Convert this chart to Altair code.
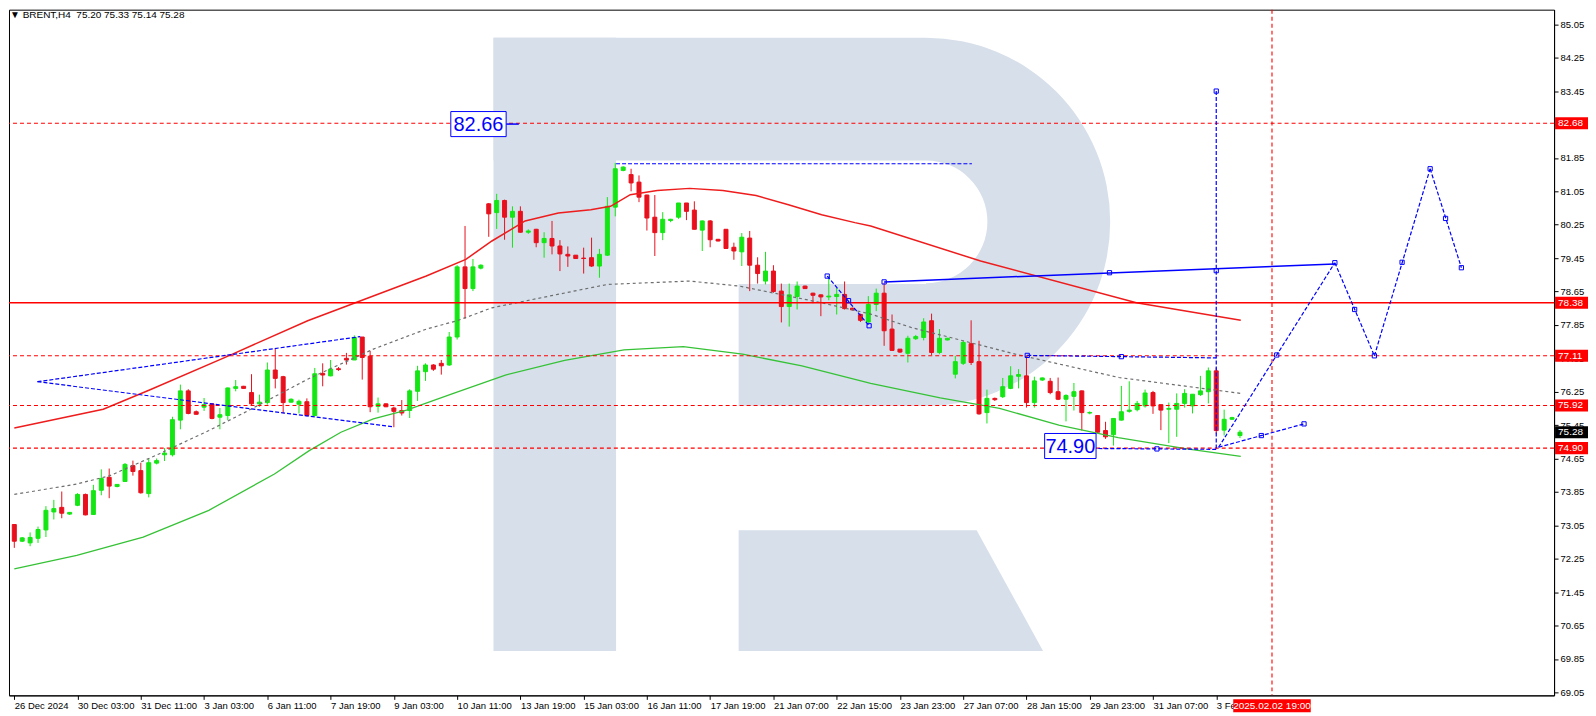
import json
import altair as alt
import pandas as pd

# ---------------- candle data (BRENT H4) ----------------
opens = [73.07, 72.67, 72.63, 72.74, 72.94, 73.37, 73.48, 73.32, 73.53, 73.79,
         73.31, 73.89, 74.20, 73.98, 74.10, 74.48, 74.36, 73.81, 74.54, 74.74,
         74.74, 75.57, 76.27, 75.77, 75.88, 75.96, 75.64, 75.68, 76.33, 76.38,
         76.23, 75.96, 75.99, 76.77, 76.61, 76.00, 75.95, 76.01, 75.68, 76.69,
         76.63, 76.80, 77.05, 77.01, 77.56, 77.10, 75.90, 75.96, 75.86, 75.80,
         75.80, 76.26, 76.73, 76.89, 76.93, 76.89, 77.56, 79.24, 78.72, 79.21,
         80.75, 80.54, 80.83, 80.43, 80.57, 80.07, 80.14, 79.82, 79.92, 79.74,
         79.54, 79.52, 79.45, 79.46, 79.26, 79.52, 80.67, 81.55, 81.45, 81.27,
         80.96, 80.43, 80.06, 80.35, 80.43, 80.77, 80.60, 80.12, 80.34, 79.90,
         80.14, 79.71, 79.60, 79.93, 79.28, 78.90, 79.14, 78.66, 78.29, 78.53,
         78.78, 78.61, 78.57, 78.52, 78.53, 78.58, 78.25, 78.10, 77.92, 78.34,
         78.61, 77.75, 77.27, 77.17, 77.52, 77.55, 77.95, 77.19, 77.49, 76.67,
         76.93, 77.40, 76.97, 75.75, 76.09, 76.13, 76.33, 76.62, 76.63, 75.99,
         76.53, 76.50, 76.25, 76.07, 76.14, 76.27, 75.74, 75.68, 75.32, 75.22,
         75.57, 75.78, 75.82, 75.91, 76.23, 75.94, 75.83, 75.83, 75.97, 75.91,
         76.18, 76.25, 76.75, 75.33, 75.59, 75.20]
highs = [73.07, 72.77, 72.88, 73.02, 73.51, 73.66, 73.86, 73.37, 73.82, 73.81,
         74.02, 74.39, 74.41, 74.04, 74.54, 74.60, 74.55, 74.65, 74.65, 74.90,
         75.65, 76.42, 76.31, 75.80, 76.10, 75.97, 75.86, 76.35, 76.53, 76.39,
         76.67, 76.18, 76.95, 77.27, 76.63, 76.09, 76.06, 76.09, 76.82, 76.93,
         77.01, 76.84, 77.18, 77.60, 77.56, 77.23, 76.11, 75.97, 75.89, 76.05,
         76.31, 76.87, 76.93, 76.91, 77.01, 77.68, 79.28, 80.22, 79.43, 79.30,
         80.77, 80.99, 80.85, 80.69, 80.69, 80.14, 80.15, 80.07, 80.34, 79.88,
         79.73, 79.52, 79.70, 79.94, 79.67, 80.91, 81.73, 81.65, 81.59, 81.43,
         80.97, 80.96, 80.55, 80.39, 80.77, 80.77, 80.81, 80.35, 80.36, 79.91,
         80.14, 79.82, 80.05, 80.10, 79.47, 79.60, 79.28, 78.84, 78.84, 78.89,
         78.79, 78.62, 78.58, 79.02, 78.74, 78.89, 78.26, 78.12, 78.54, 78.72,
         78.86, 78.10, 77.27, 77.59, 77.61, 78.01, 78.12, 77.75, 77.54, 77.11,
         77.47, 77.96, 77.47, 76.30, 76.11, 76.58, 76.86, 76.79, 77.11, 76.61,
         76.59, 76.58, 76.59, 76.19, 76.46, 76.28, 75.78, 75.69, 75.53, 75.62,
         76.39, 76.50, 76.03, 76.30, 76.27, 75.94, 75.99, 76.21, 76.31, 76.19,
         76.63, 76.83, 76.83, 75.82, 75.65, 75.33]
lows = [72.51, 72.65, 72.55, 72.63, 72.77, 73.19, 73.22, 73.30, 73.51, 73.29,
        73.30, 73.77, 73.70, 73.96, 74.09, 74.24, 73.81, 73.72, 74.51, 74.59,
        74.70, 75.35, 75.71, 75.70, 75.79, 75.59, 75.35, 75.57, 76.26, 76.32,
        75.92, 75.89, 75.94, 76.33, 75.73, 75.99, 75.73, 75.66, 75.66, 76.38,
        76.62, 76.75, 76.90, 77.01, 76.54, 75.76, 75.75, 75.88, 75.40, 75.68,
        75.62, 76.03, 76.51, 76.75, 76.66, 76.87, 77.50, 78.00, 78.66, 79.18,
        79.96, 80.15, 79.89, 79.70, 80.06, 80.03, 79.71, 79.46, 79.54, 79.14,
        79.24, 79.44, 79.08, 79.24, 78.98, 79.50, 80.45, 81.53, 81.05, 80.79,
        80.11, 79.50, 79.88, 80.31, 80.39, 80.36, 80.14, 79.62, 79.71, 79.85,
        79.67, 79.41, 79.26, 78.66, 78.84, 78.82, 78.62, 77.91, 77.81, 78.22,
        78.71, 78.37, 78.06, 78.44, 78.10, 78.22, 78.20, 77.92, 77.90, 78.18,
        77.35, 77.23, 77.18, 76.95, 77.49, 77.48, 77.13, 77.15, 77.48, 76.57,
        76.89, 76.89, 75.70, 75.49, 76.03, 76.10, 76.31, 76.33, 75.87, 75.87,
        76.51, 76.19, 76.05, 75.54, 75.80, 75.32, 75.71, 75.26, 75.12, 74.96,
        75.56, 75.75, 75.78, 75.87, 75.72, 75.33, 75.02, 75.17, 75.87, 75.73,
        76.15, 75.97, 75.25, 75.20, 75.58, 75.14]
closes = [72.67, 72.75, 72.76, 72.95, 73.41, 73.45, 73.34, 73.36, 73.79, 73.30,
          73.88, 74.17, 73.99, 74.03, 74.51, 74.34, 73.83, 74.55, 74.60, 74.78,
          75.58, 76.27, 75.73, 75.71, 75.94, 75.61, 75.70, 76.34, 76.37, 76.33,
          75.96, 76.00, 76.77, 76.57, 75.99, 76.07, 76.02, 75.68, 76.68, 76.65,
          76.79, 76.78, 77.01, 77.55, 77.07, 75.89, 75.96, 75.89, 75.78, 75.74,
          76.27, 76.75, 76.89, 76.79, 76.87, 77.56, 79.24, 78.72, 79.24, 79.28,
          80.51, 80.83, 80.43, 80.57, 80.07, 80.10, 79.82, 79.92, 79.74, 79.55,
          79.50, 79.44, 79.44, 79.26, 79.54, 80.69, 81.59, 81.63, 81.25, 80.91,
          80.41, 80.06, 80.38, 80.38, 80.77, 80.57, 80.14, 80.34, 79.89, 79.86,
          79.68, 79.62, 79.95, 79.28, 79.08, 79.14, 78.65, 78.29, 78.57, 78.78,
          78.72, 78.56, 78.52, 78.54, 78.58, 78.24, 78.21, 77.96, 78.34, 78.61,
          77.71, 77.24, 77.20, 77.53, 77.57, 77.92, 77.19, 77.53, 77.53, 76.97,
          77.43, 76.95, 75.72, 76.09, 76.06, 76.37, 76.63, 76.66, 75.99, 76.51,
          76.58, 76.23, 76.07, 76.16, 76.25, 75.75, 75.75, 75.28, 75.17, 75.61,
          75.77, 75.81, 75.97, 76.22, 75.91, 75.81, 75.85, 75.97, 76.21, 76.19,
          76.27, 76.75, 75.32, 75.59, 75.63, 75.28]

# ---------------- axes text ----------------
tick_bars = [0, 8, 16, 24, 32, 40, 48, 56, 64, 72, 80, 88, 96, 104, 112, 120, 128, 136, 144, 152]
tick_labels = ["26 Dec 2024", "30 Dec 03:00", "31 Dec 11:00", "3 Jan 03:00", "6 Jan 11:00",
               "7 Jan 19:00", "9 Jan 03:00", "10 Jan 11:00", "13 Jan 19:00", "15 Jan 03:00",
               "16 Jan 11:00", "17 Jan 19:00", "21 Jan 07:00", "22 Jan 15:00", "23 Jan 23:00",
               "27 Jan 07:00", "28 Jan 15:00", "29 Jan 23:00", "31 Jan 07:00", "3 Feb 07:00"]
price_ticks = [69.05, 69.85, 70.65, 71.45, 72.25, 73.05, 73.85, 74.65, 75.45, 76.25, 77.05,
               77.85, 78.65, 79.45, 80.25, 81.05, 81.85, 82.65, 83.45, 84.25, 85.05]

# ---------------- indicator lines ----------------
red_ma_x = [0, 11.25, 17.1, 27.1, 37.1, 52.1, 57.1, 60.4, 64.6, 68.8, 72.9, 75.4, 77.9, 81.3,
            85.4, 89.6, 93.8, 97.9, 102.1, 106.3, 108.3, 122.2, 141.9, 155.1]
red_ma_y = [75.38, 75.83, 76.29, 77.11, 77.95, 79.02, 79.42, 79.86, 80.34, 80.53, 80.61, 80.69,
            80.97, 81.07, 81.12, 81.07, 80.95, 80.73, 80.49, 80.30, 80.22, 79.38, 78.38, 77.96]
green_ma_x = [0, 7.9, 16.3, 24.6, 32.9, 37.3, 41.3, 45.4, 49.6, 55.8, 62.1, 69.6, 77.1, 84.6,
              92.1, 99.6, 108.3, 117.1, 124.6, 132.1, 139.6, 148.3, 155.1]
green_ma_y = [72.01, 72.33, 72.77, 73.41, 74.28, 74.84, 75.28, 75.60, 75.81, 76.23, 76.65, 77.00,
              77.25, 77.33, 77.15, 76.87, 76.45, 76.10, 75.85, 75.45, 75.15, 74.88, 74.70]
gray_ma_x = [0, 7.9, 12.1, 18.3, 24.6, 28.8, 37.1, 45.4, 52.1, 56.0, 60.4, 68.7, 75.0, 85.4,
             91.7, 102.1, 108.3, 113.4, 126.6, 139.7, 155.1]
gray_ma_y = [73.79, 74.04, 74.24, 74.76, 75.32, 75.72, 76.55, 77.27, 77.75, 77.95, 78.26, 78.58,
             78.82, 78.90, 78.78, 78.38, 78.11, 77.79, 77.15, 76.59, 76.21]

# ---------------- levels and drawn objects ----------------
dashed_levels = [82.68, 77.11, 75.92, 74.90]
solid_levels = [78.38]
future_marker_bar = 159.05

blue_dash_x0 = [2.93, 2.93, 76.1, 102.8, 152.0, 128.1, 137.1, 152.3, 167.0, 172.0, 179.05, 152.3]
blue_dash_y0 = [76.49, 76.49, 81.71, 79.02, 83.45, 77.12, 74.89, 74.92, 79.34, 77.11, 81.59, 74.92]
blue_dash_x1 = [43.75, 47.93, 121.1, 108.1, 152.0, 152.0, 152.0, 167.0, 172.0, 179.05, 183.0, 163.1]
blue_dash_y1 = [77.57, 75.41, 81.71, 77.83, 74.85, 77.06, 74.87, 79.34, 77.11, 81.59, 79.22, 75.48]
blue_solid_x0 = [110.0, 62.2]
blue_solid_y0 = [78.88, 82.66]
blue_solid_x1 = [167.0, 63.8]
blue_solid_y1 = [79.31, 82.66]
marker_x = [110.0, 138.5, 167.0, 159.65, 169.5, 172.0, 175.5, 179.05, 181.0, 183.0, 157.7,
            163.1, 152.0, 152.0, 128.1, 140.0, 144.5, 102.8, 105.5, 108.1]
marker_y = [78.88, 79.10, 79.34, 77.13, 78.22, 77.11, 79.35, 81.59, 80.40, 79.22, 75.20,
            75.48, 83.45, 79.15, 77.12, 77.09, 74.88, 79.02, 78.43, 77.83]

box_labels = ["82.66", "74.90"]
box_x0 = [55.2, 130.3]
box_x1 = [62.2, 136.8]
box_y0 = [82.36, 74.65]
box_y1 = [82.96, 75.25]

axis_tags = ["82.68", "78.38", "77.11", "75.92", "74.90", "75.28"]
axis_tag_price = [82.68, 78.38, 77.11, 75.92, 74.90, 75.28]
axis_tag_color = ["#ff0000", "#ff0000", "#ff0000", "#ff0000", "#ff0000", "#000000"]

header = "\u25bc BRENT,H4\u00a0 75.20 75.33 75.14 75.28"
time_tag = "2025.02.02 19:00"

# watermark logo pieces (in bar / price units)
logo_rect_x0 = [60.6, 60.6, 91.6]
logo_rect_x1 = [76.1, 115.3, 115.3]
logo_rect_y0 = [70.04, 81.79, 75.91]
logo_rect_y1 = [84.73, 84.73, 78.83]
logo_leg_x = [91.6, 121.7, 130.1]
logo_leg_top = [72.93, 72.93, 70.04]
logo_leg_bot = [70.04, 70.04, 70.04]
logo_bowl_center = (115.3, 80.32)

# ---------------- styling ----------------
W, H = 1548, 687
X_DOM = [-0.04, 194.09]
Y_DOM = [68.978, 85.40]
GREEN = "#14e614"
RED = "#e8101c"
BLUE = "#0000ff"
LOGO = "#d6dfea"
FONT = "Liberation Sans"

xs = alt.Scale(domain=X_DOM, nice=False, zero=False)
ys = alt.Scale(domain=Y_DOM, nice=False, zero=False)
label_expr = json.dumps(tick_labels) + "[round(datum.value / 8)]"
X_AX = alt.Axis(values=tick_bars, labelExpr=label_expr, orient="bottom", tickSize=4,
                tickColor="black", domainColor="black", labelColor="black", labelFont=FONT,
                labelFontSize=9.5, labelAlign="left", labelPadding=1, labelOverlap=False,
                labelFlush=False, grid=False, title=None)
Y_AX = alt.Axis(values=price_ticks, format=".2f", orient="right", tickSize=4, tickColor="black",
                domainColor="black", labelColor="black", labelFont=FONT, labelFontSize=9.5,
                labelPadding=2, labelOverlap=False, labelFlush=False, grid=False, title=None)


def X(field):
    return alt.X(field, type="quantitative", scale=xs, axis=X_AX)


def Y(field):
    return alt.Y(field, type="quantitative", scale=ys, axis=Y_AX)


# ---------------- tables ----------------
candles = pd.DataFrame({"i": list(range(len(opens))), "o": opens, "h": highs, "l": lows, "c": closes})
candles["dir"] = ["up" if c >= o else "down" for o, c in zip(opens, closes)]
dir_color = alt.Color("dir:N", scale=alt.Scale(domain=["up", "down"], range=[GREEN, RED]), legend=None)

logo_rects = pd.DataFrame({"x0": logo_rect_x0, "x1": logo_rect_x1, "y0": logo_rect_y0, "y1": logo_rect_y1})
logo_leg = pd.DataFrame({"x": logo_leg_x, "t": logo_leg_top, "b": logo_leg_bot})
logo_bowl = pd.DataFrame({"x": [logo_bowl_center[0]], "y": [logo_bowl_center[1]]})

# ---------------- layers ----------------
logo_r = alt.Chart(logo_rects).mark_rect(color=LOGO).encode(x=X("x0"), x2="x1", y=Y("y0"), y2="y1")
logo_a = alt.Chart(logo_bowl).mark_arc(color=LOGO, innerRadius=61.5, outerRadius=184.5, theta=0,
                                       theta2=3.14159265).encode(x=X("x"), y=Y("y"))
logo_l = alt.Chart(logo_leg).mark_area(color=LOGO).encode(x=X("x"), y=Y("t"), y2="b")

wicks = alt.Chart(candles).mark_rule(strokeWidth=1).encode(x=X("i"), y=Y("l"), y2="h", color=dir_color)
bodies = alt.Chart(candles).mark_bar(size=4, strokeWidth=1).encode(
    x=X("i"), y=Y("o"), y2="c", color=dir_color, stroke=dir_color)


def ma_line(xv, yv, color, dash=None, width=1.3):
    df = pd.DataFrame({"x": xv, "y": yv})
    kw = dict(color=color, strokeWidth=width)
    if dash:
        kw["strokeDash"] = dash
    return alt.Chart(df).mark_line(**kw).encode(x=X("x"), y=Y("y"))


red_ma = ma_line(red_ma_x, red_ma_y, "#ee1c1c", width=1.5)
green_ma = ma_line(green_ma_x, green_ma_y, "#36c236", width=1.3)
gray_ma = ma_line(gray_ma_x, gray_ma_y, "#6e6e6e", dash=[3, 3], width=1.2)

lev_d = alt.Chart(pd.DataFrame({"p": dashed_levels})).mark_rule(
    color="#ff0000", strokeWidth=1.1, strokeDash=[4, 3]).encode(y=Y("p"))
lev_s = alt.Chart(pd.DataFrame({"p": solid_levels})).mark_rule(
    color="#ff0000", strokeWidth=1.4).encode(y=Y("p"))
vline = alt.Chart(pd.DataFrame({"b": [future_marker_bar]})).mark_rule(
    color="#ff0000", strokeWidth=1.1, strokeDash=[4, 3]).encode(x=X("b"))

bd = pd.DataFrame({"x0": blue_dash_x0, "y0": blue_dash_y0, "x1": blue_dash_x1, "y1": blue_dash_y1})
blue_d = alt.Chart(bd).mark_rule(color=BLUE, strokeWidth=1.2, strokeDash=[4, 2]).encode(
    x=X("x0"), y=Y("y0"), x2="x1", y2="y1")
bs = pd.DataFrame({"x0": blue_solid_x0, "y0": blue_solid_y0, "x1": blue_solid_x1, "y1": blue_solid_y1})
blue_s = alt.Chart(bs).mark_rule(color=BLUE, strokeWidth=1.5).encode(
    x=X("x0"), y=Y("y0"), x2="x1", y2="y1")
marks = alt.Chart(pd.DataFrame({"x": marker_x, "y": marker_y})).mark_point(
    shape="square", filled=False, size=18, color=BLUE, strokeWidth=1, opacity=1).encode(x=X("x"), y=Y("y"))

boxes_df = pd.DataFrame({"t": box_labels, "x0": box_x0, "x1": box_x1, "y0": box_y0, "y1": box_y1})
boxes_df["xc"] = [(a + b) / 2 for a, b in zip(box_x0, box_x1)]
boxes_df["yc"] = [(a + b) / 2 for a, b in zip(box_y0, box_y1)]
box_r = alt.Chart(boxes_df).mark_rect(fill="white", stroke=BLUE, strokeWidth=1).encode(
    x=X("x0"), x2="x1", y=Y("y0"), y2="y1")
box_t = alt.Chart(boxes_df).mark_text(color=BLUE, font=FONT, fontSize=20, baseline="middle",
                                      align="center", dy=1).encode(x=X("xc"), y=Y("yc"), text="t:N")

tags = pd.DataFrame({"t": axis_tags, "p": axis_tag_price, "col": axis_tag_color})
tags["top"] = [p + 0.145 for p in axis_tag_price]
tags["bot"] = [p - 0.145 for p in axis_tag_price]
tag_r = alt.Chart(tags).mark_rect().encode(
    x=alt.value(W + 1), x2=alt.value(W + 34), y=Y("top"), y2="bot",
    color=alt.Color("col:N", scale=None))
tag_t = alt.Chart(tags).mark_text(color="white", font=FONT, fontSize=10, align="left",
                                  baseline="middle").encode(x=alt.value(W + 4), y=Y("p"), text="t:N")

tt = pd.DataFrame({"b": [future_marker_bar - 4.9], "b2": [future_marker_bar + 4.9],
                   "bc": [future_marker_bar], "t": [time_tag]})
time_r = alt.Chart(tt).mark_rect(color="#ff0000").encode(
    x=X("b"), x2="b2", y=alt.value(H + 4), y2=alt.value(H + 17))
time_t = alt.Chart(tt).mark_text(color="white", font=FONT, fontSize=10, align="center",
                                 baseline="middle").encode(x=X("bc"), y=alt.value(H + 10.5), text="t:N")

head = alt.Chart(pd.DataFrame({"t": [header]})).mark_text(
    color="black", font=FONT, fontSize=10, align="left", baseline="middle").encode(
    x=alt.value(1), y=alt.value(5), text="t:N")

chart = alt.layer(
    logo_r, logo_a, logo_l,
    wicks, bodies,
    red_ma, green_ma, gray_ma,
    lev_d, lev_s, vline,
    blue_d, blue_s, marks,
    box_r, box_t,
    tag_r, tag_t, time_r, time_t, head,
).properties(width=W, height=H, padding=0, background="white").configure_view(
    stroke="black", strokeWidth=1
)

chart.save("out.html", embed_options={"renderer": "svg", "actions": False})
